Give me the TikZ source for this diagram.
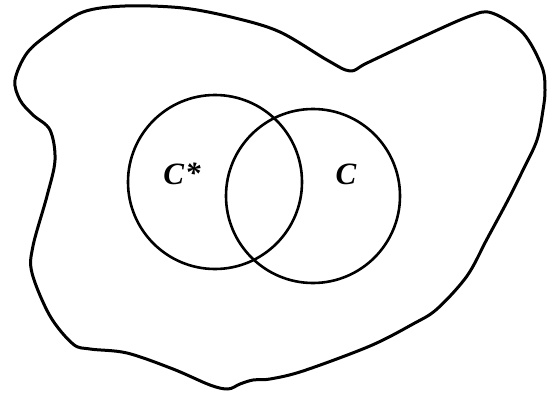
\documentclass[tikz,border=0pt]{standalone}
\usepackage{fontspec}
\setmainfont{Liberation Serif}
\usepackage{tikz}
\usetikzlibrary{positioning}
\tikzset{REGION/.style={line width=3pt, line join=round}}
\tikzset{SET/.style={circle, draw, line width=2.6pt, minimum size=174pt, inner sep=0pt}}
\tikzset{LABEL/.style={inner sep=0pt, font=\fontsize{31}{34}\selectfont\bfseries\itshape}}

\begin{document}
\begin{tikzpicture}[x=1pt,y=-1pt]

\useasboundingbox (0,0) rectangle (551,396);

% outer region
\draw[REGION] plot[smooth cycle, tension=0.55] coordinates {
    (125,6) (183,8) (235,18) (280,32) (327,60) (350,71) (367,63)
    (420,38) (470,16) (492,13) (523,33) (542,67) (545,90) (543,110)
    (537,140) (523,170) (508,200) (487,239) (467,276) (437,309)
    (413,324) (370,346) (303,371) (270,379) (253,380) (240,384)
    (228,389) (210,385) (173,369) (127,353) (90,349) (73,344)
    (50,316) (32,273) (33,246) (47,196) (55,160) (50,130) (33,115)
    (20,100) (15,80) (27,53) (50,33) (83,12)
};

% the two sets
\node[SET] (n_cstar) at (215,182) {};
\node[SET] (n_c) at (313,196) {};

\node[LABEL] (l_cstar) at (182,174) {C\kern1pt\raisebox{0.05em}{*}};
\node[LABEL] (l_c) at (346,174) {C};

\end{tikzpicture}
\end{document}
